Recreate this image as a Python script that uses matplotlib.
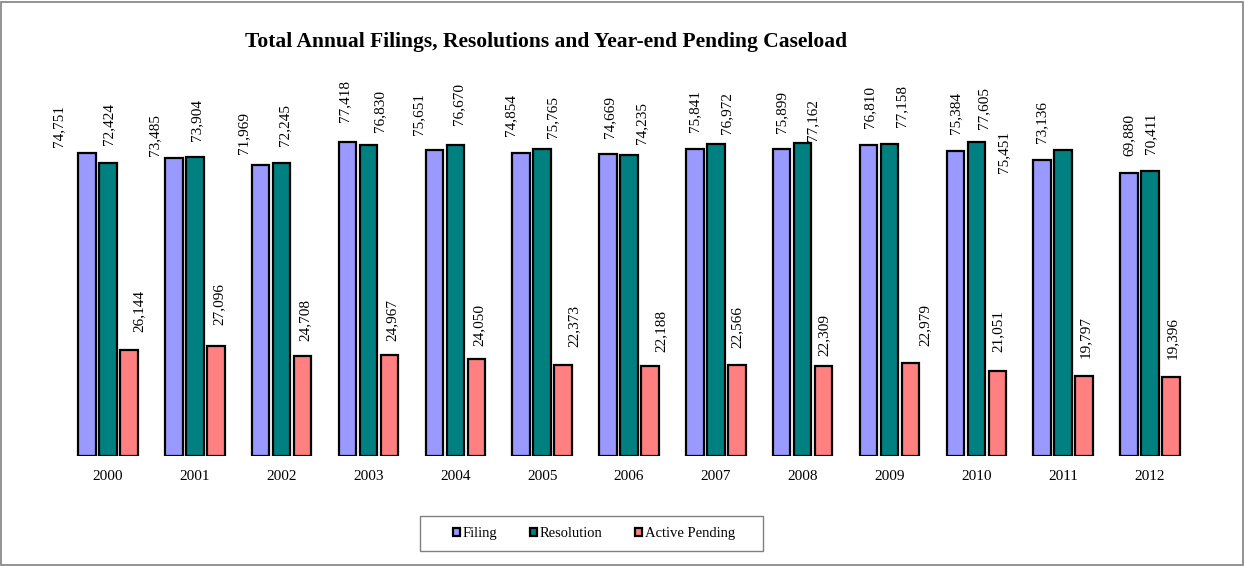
import matplotlib
matplotlib.use("Agg")
import matplotlib.pyplot as plt
from matplotlib.patches import Rectangle
import numpy as np

plt.rcParams["font.family"] = ["Liberation Serif", "DejaVu Serif"]

years = ["2000", "2001", "2002", "2003", "2004", "2005", "2006",
         "2007", "2008", "2009", "2010", "2011", "2012"]
filing = [74751, 73485, 71969, 77418, 75651, 74854, 74669,
          75841, 75899, 76810, 75384, 73136, 69880]
resolution = [72424, 73904, 72245, 76830, 76670, 75765, 74235,
              76972, 77162, 77158, 77605, 75451, 70411]
pending = [26144, 27096, 24708, 24967, 24050, 22373, 22188,
           22566, 22309, 22979, 21051, 19797, 19396]

# label nudges (pixels) copied from the original's placement: sideways shift, gap above bar
filing_dx = [-28, -19, -17, -3, -16, -10, 2, 0, 0, 1, 0, 0, 0]
filing_gap = [5, 1, 10, 19, 14, 16, 15, 16, 15, 16, 16, 16, 16]
res_dx = [1, 2, 3, 11, 3, 11, 13, 11, 10, 12, 7, -59, 1]
res_gap = [17, 15, 16, 12, 19, 10, 10, 9, 1, 16, 12, -24, 16]
pend_dx = [10, 3, 2, 3, 3, 11, 11, 0, 0, 15, 1, 1, 1]
pend_gap = [17, 20, 14, 13, 12, 17, 13, 16, 9, 16, 18, 17, 17]

W, H, DPI = 1245, 566, 100
PX = 72.0 / DPI  # pixel -> points

fig = plt.figure(figsize=(W / DPI, H / DPI), dpi=DPI)
ax = fig.add_axes([64.6 / W, (H - 456) / H, (1193.4 - 64.6) / W, 405 / H])

x = np.arange(len(years))
step, width = 0.242, 0.2
series = [
    (filing, "Filing", "#9999FF", -step, filing_dx, filing_gap),
    (resolution, "Resolution", "#008080", 0.0, res_dx, res_gap),
    (pending, "Active Pending", "#FF8080", step, pend_dx, pend_gap),
]
handles = []
for vals, name, col, off, dxs, gaps in series:
    b = ax.bar(x + off, vals, width, color=col, edgecolor="black",
               linewidth=1.6, label=name)
    handles.append(b)
    for xi, v, dx, g in zip(x + off, vals, dxs, gaps):
        ax.annotate(f"{v:,}", xy=(xi, v), xytext=(dx * PX, (g + 1) * PX),
                    textcoords="offset points", rotation=90,
                    ha="center", va="bottom", fontsize=11)

ax.set_xlim(-0.5, len(years) - 0.5)
ax.set_ylim(0, 100000)
ax.set_xticks(x)
ax.set_xticklabels(years, fontsize=11)
ax.tick_params(axis="x", length=0, pad=10)
ax.set_yticks([])
for s in ax.spines.values():
    s.set_visible(False)

fig.text(546.5 / W, 1 - 42 / H, "Total Annual Filings, Resolutions and Year-end Pending Caseload",
         ha="center", va="center", fontsize=15.5, fontweight="bold")

leg = fig.legend(handles=handles, loc="center",
                 bbox_to_anchor=(594 / W, 1 - 533.5 / H), ncol=3,
                 fontsize=10.5, frameon=False,
                 handlelength=0.5, handleheight=0.5, handletextpad=0.2,
                 columnspacing=2.2, borderpad=0.0)

# legend box drawn by hand (the original has wider side padding than height)
fig.patches.append(Rectangle((420 / W, 1 - 551 / H), 343 / W, 35 / H,
                             transform=fig.transFigure, fill=False,
                             edgecolor="#808080", linewidth=1.0))

# outer chart border
fig.patches.append(Rectangle((1 / W, 1 / H), (W - 3) / W, (H - 3) / H,
                             transform=fig.transFigure, fill=False,
                             edgecolor="#808080", linewidth=1.2))

fig.savefig("out.png", dpi=DPI)
